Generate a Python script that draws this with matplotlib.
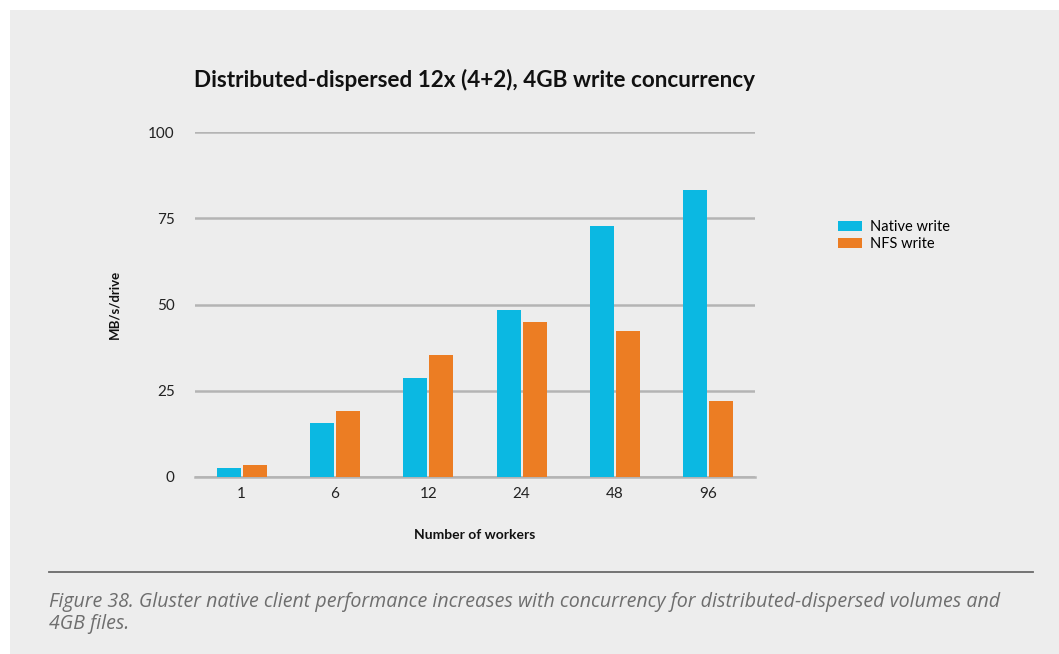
import numpy as np
import matplotlib
matplotlib.use('Agg')
import matplotlib.pyplot as plt
from matplotlib.patches import Rectangle
from matplotlib.lines import Line2D

# Datos
workers = ['1', '6', '12', '24', '48', '96']
native_write = [2.6, 15.7, 28.8, 48.5, 72.7, 83.1]
nfs_write = [3.5, 19.2, 35.5, 44.8, 42.2, 22.1]
y_ticks = [0, 25, 50, 75, 100]

plt.rcParams['font.family'] = ['Lato', 'DejaVu Sans']

W, H = 1059, 654
fig = plt.figure(figsize=(W / 100, H / 100), dpi=100, facecolor='white')
# Panel gris (franja blanca arriba y a la izquierda)
fig.patches.append(Rectangle((10 / W, 0), 1 - 10 / W, 1 - 10 / H,
                             transform=fig.transFigure, facecolor='#ededed',
                             edgecolor='none', zorder=-5))

ax = fig.add_axes([195 / W, 177 / H, 560 / W, 345 / H])
ax.set_facecolor('none')

x = np.arange(len(workers))
width = 0.257
off = 0.139
ax.bar(x - off, native_write, width, color='#0bb8e2', label='Native write', zorder=3)
ax.bar(x + off, nfs_write, width, color='#ec7d23', label='NFS write', zorder=3)

ax.set_xlim(-0.5, len(workers) - 0.5)
ax.set_ylim(0, 100)
ax.set_yticks(y_ticks)
ax.set_xticks(x)
ax.set_xticklabels(workers)
ax.yaxis.grid(True, color='#b4b4b4', linewidth=1.8, zorder=1)
ax.set_axisbelow(True)
for s in ['top', 'right', 'left']:
    ax.spines[s].set_visible(False)
ax.spines['bottom'].set_color('#b4b4b4')
ax.spines['bottom'].set_linewidth(1.8)
ax.spines['bottom'].set_zorder(2)
ax.tick_params(axis='both', length=0, labelsize=11, colors='#222222')
ax.tick_params(axis='y', pad=14.5)
ax.tick_params(axis='x', pad=7)

ax.set_ylabel('MB/s/drive', fontsize=9.5, fontweight='bold', color='#111111', labelpad=20)
ax.set_xlabel('Number of workers', fontsize=10, fontweight='bold', color='#111111', labelpad=20.5)

fig.text(475 / W, 1 - 80 / H, 'Distributed-dispersed 12x (4+2), 4GB write concurrency',
         ha='center', va='center', fontsize=16.2, fontweight='bold', color='#111111')

ax.legend(loc='upper left', bbox_to_anchor=(838 / W, 1 - 220 / H),
          bbox_transform=fig.transFigure, frameon=False, fontsize=10.5,
          handlelength=1.65, handleheight=0.62, labelspacing=0.2,
          handletextpad=0.55, borderpad=0, borderaxespad=0)

# Separador y pie de figura
fig.lines.append(Line2D([49 / W, 1033 / W], [1 - 572 / H, 1 - 572 / H],
                        transform=fig.transFigure, color='#6a6a6a', linewidth=1.3))
fig.text(49 / W, 1 - 592 / H,
         'Figure 38. Gluster native client performance increases with concurrency for distributed-dispersed volumes and\n4GB files.',
         ha='left', va='top', fontsize=14.1, style='italic', color='#6e6e6e',
         linespacing=1.12, family=['Open Sans', 'DejaVu Sans'])

fig.savefig('out.png', dpi=100, facecolor=fig.get_facecolor())
